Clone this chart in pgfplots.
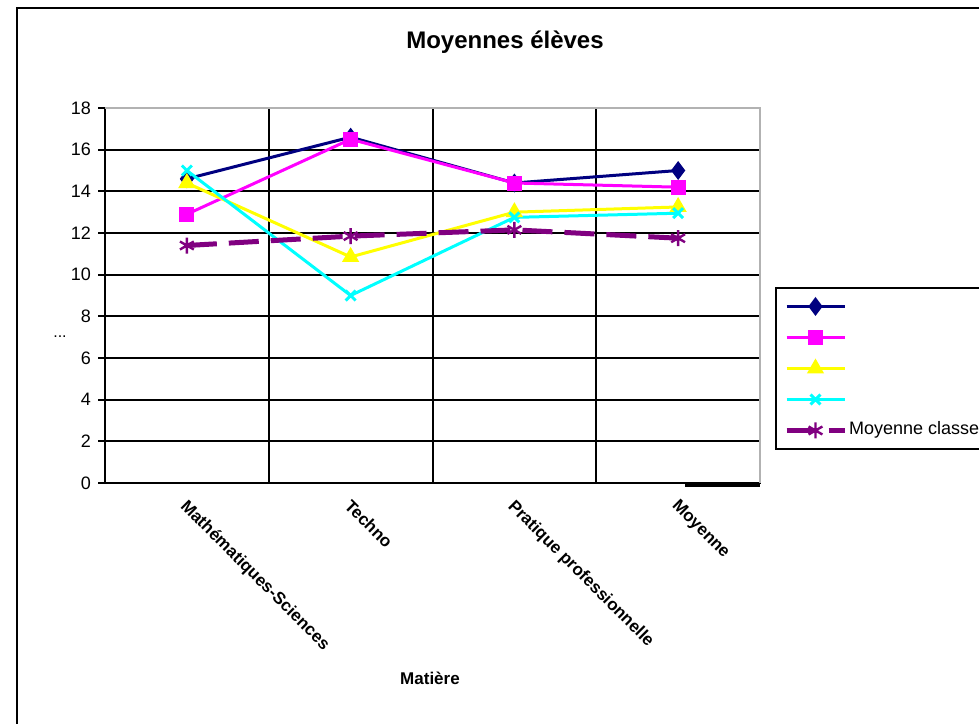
\documentclass[border=0pt]{standalone}
\usepackage{fontspec}
\setmainfont{Liberation Sans}
\usepackage{pgfplots}
\pgfplotsset{compat=1.18}
\definecolor{navyc}{RGB}{0,0,128}
\definecolor{magc}{RGB}{255,0,255}
\definecolor{yelc}{RGB}{255,255,0}
\definecolor{cyac}{RGB}{0,255,255}
\definecolor{purc}{RGB}{128,0,128}
\begin{document}
\begin{tikzpicture}[x=0.5pt,y=0.5pt]
\useasboundingbox (0,0) rectangle (979,723);
\clip (0,0) rectangle (979,723);
\fill[white] (0,0) rectangle (979,723);
\draw[line width=1pt] (17,-10) -- (17,715) -- (1000,715);
\node[font=\bfseries\fontsize{12}{14}\selectfont] at (505,681) {Moyennes élèves};
\node[font=\bfseries\fontsize{8.5}{10}\selectfont] at (430,45) {Matière};
\node[font=\fontsize{8}{9}\selectfont] at (60,386) {...};
\begin{axis}[
  at={(52.5pt,120pt)}, anchor=south west,
  scale only axis, width=327.5pt, height=187.5pt,
  xmin=0, xmax=4, ymin=0, ymax=18,
  ytick={0,2,...,18},
  ytick pos=left,
  xtick={0.5,1.5,2.5,3.5},
  xticklabels={Mathématiques-Sciences,Techno,Pratique professionnelle,Moyenne},
  minor xtick={1,2,3},
  xminorgrids=true, ymajorgrids=true,
  major grid style={black,line width=1pt},
  minor grid style={black,line width=1pt},
  axis line style={black,line width=1pt},
  xtick style={draw=none},
  minor tick length=0pt,
  ytick style={black,line width=1pt},
  tick align=outside, major tick length=3.5pt,
  /pgf/number format/assume math mode=true,
  yticklabel style={font=\fontsize{9}{10}\selectfont},
  xticklabel style={rotate=-45, anchor=north west, font=\bfseries\fontsize{8.5}{10}\selectfont, xshift=0pt, yshift=1.2pt},
  clip=false,
  legend style={at={(1.0229,0.5227)}, anchor=north west, draw=black, line width=1pt,
    font=\fontsize{9}{10}\selectfont, row sep=3pt, inner xsep=4pt, inner ysep=3pt,
    nodes={text height=6.5pt, text depth=2pt, inner xsep=1pt}},
  legend cell align=left,
  legend image code/.code={\draw[mark repeat=2,mark phase=2,#1] plot coordinates {(0pt,0pt)(14.5pt,0pt)(29pt,0pt)};},
]
\addplot[color=navyc, line width=1.5pt, mark=diamond*, mark size=3.5pt] coordinates {(0.5,14.6)(1.5,16.6)(2.5,14.4)(3.5,15.0)};
\addlegendentry{\phantom{x}}
\addplot[color=magc, line width=1.5pt, mark=square*, mark size=3pt] coordinates {(0.5,12.9)(1.5,16.5)(2.5,14.4)(3.5,14.2)};
\addlegendentry{\phantom{x}}
\addplot[color=yelc, line width=1.5pt, mark=triangle*, mark size=3.5pt] coordinates {(0.5,14.4)(1.5,10.85)(2.5,13.0)(3.5,13.25)};
\addlegendentry{\phantom{x}}
\addplot[color=cyac, line width=1.5pt, mark=x, mark size=3.5pt] coordinates {(0.5,15.0)(1.5,9.0)(2.5,12.75)(3.5,12.95)};
\addlegendentry{\phantom{x}}
\addplot[color=purc, line width=2.5pt, dash pattern=on 15pt off 6pt, mark=asterisk, mark size=4pt, mark options={solid, line width=1.2pt}] coordinates {(0.5,11.4)(1.5,11.85)(2.5,12.15)(3.5,11.75)};
\addlegendentry{Moyenne classe}
\draw[gray!60, line width=1pt] (rel axis cs:0,1) -- (rel axis cs:1,1) -- (rel axis cs:1,0);
\end{axis}
\draw[line width=1.5pt] (685,237) -- (760,237);
\end{tikzpicture}
\end{document}
